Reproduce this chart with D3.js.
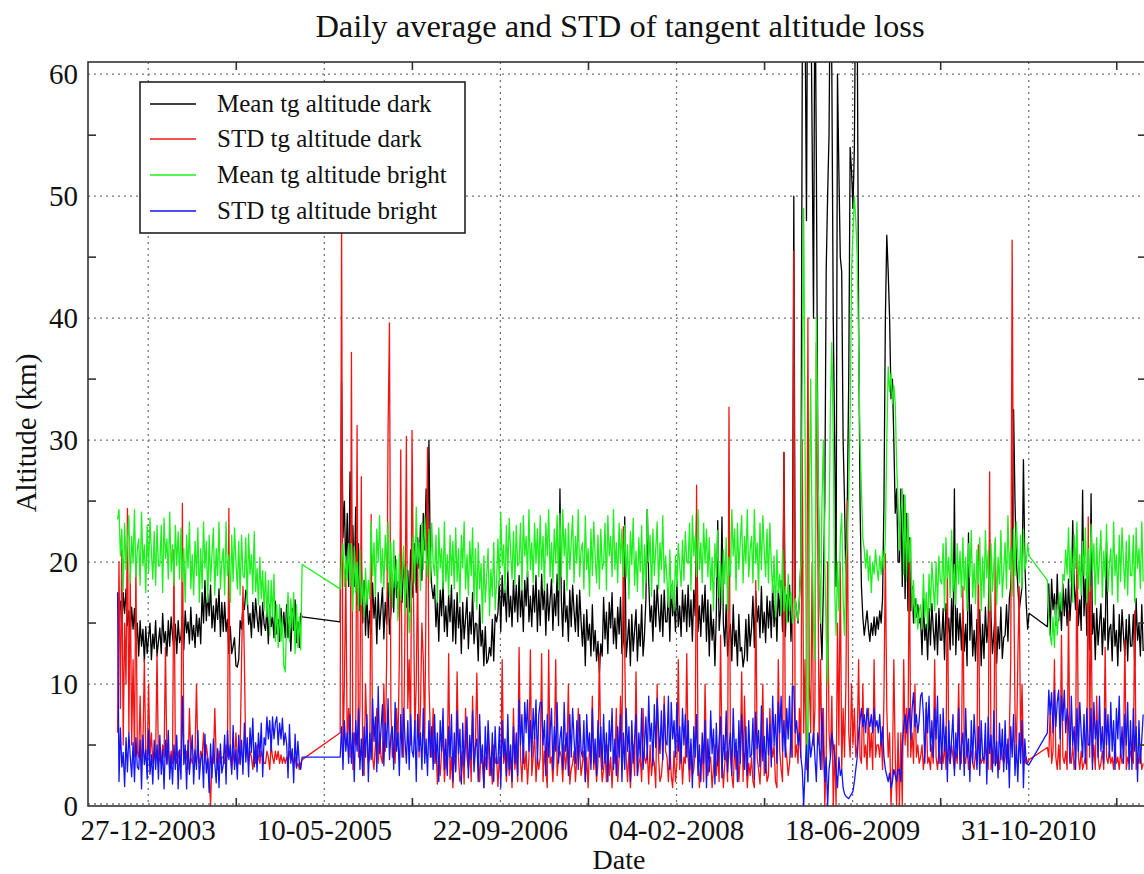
<!DOCTYPE html>
<html>
<head>
<meta charset="utf-8">
<script src="https://cdn.jsdelivr.net/npm/d3@7"></script>
<style>
  body { margin: 0; background: #fff; }
  text { font-family: "Liberation Serif", "Times New Roman", serif; fill: #111; }
</style>
</head>
<body>
<div id="chart"></div>
<script>
// one sample every 4 days from 01-10-2003, null = no measurement
const firstDay = "01-10-2003";
const stepDays = 4;

const meanDark = [
  17.5, 16, 16.8, 14.5, 17.5, 15.8, 17.8, 14.8, 16, 14, 16.3, 14.5, 16.2, 13, 15,
  12.3, 15.2, 13.1, 14.5, 11.8, 14.7, 12.5, 13.8, 15, 12, 14.1, 12.9, 15.2, 12.3, 13.5,
  14.6, 12.5, 15.8, 13.4, 14.3, 12.3, 15.2, 13.1, 15.5, 14, 12.8, 14.9, 12.5, 15.2, 13.4,
  13.9, 15.7, 12.8, 16, 14.2, 15.1, 13.3, 16.3, 13.6, 14.8, 13, 15.7, 13.9, 15.4, 13.3,
  17.5, 15, 18.5, 15.2, 17.4, 15.6, 18.1, 14.6, 16.4, 14.3, 17, 15.3, 17.8, 13.9, 16.7,
  14.3, 16.7, 14.3, 15.3, 12.5, 14.7, 12.5, 13.1, 13.8, 11.5, 11.4, 12, 15.2, 14.5, 16.5,
  16.1, 17.7, 17.2, 14.9, 15.8, 13.8, 16.7, 14.6, 17, 15.5, 14.3, 16.4, 14, 16.7, 14.9,
  14.4, 16.2, 13.3, 16.5, 14.7, 15.6, 13.8, 16.8, 14.1, 15.3, 13.5, 16.2, 14.4, 15.9, 13.8,
  16.5, 13.8, 15.5, 12.7, 16.2, 14.4, 16.9, 13.4, 15.1, 13, 15.8, 15.5, null, null, null,
  null, null, null, null, null, null, null, null, null, null, null, null, null, null, null,
  null, null, null, null, null, null, null, null, 15.1, 34.8, 22, 25, 19, 24, 18,
  27.4, 20, 23, 18, 24.5, 16.5, 21.5, 16, 20, 15, 18.5, 14, 17.5, 13.8, 16,
  14.1, 18.3, 15.4, 17.1, 13.3, 17.5, 14.5, 16.2, 17.9, 13.7, 16.7, 14.9, 18.3, 14.1, 15.8,
  18.9, 15.9, 20.5, 17.1, 18.4, 15.5, 19.7, 16.7, 20.1, 18, 16.3, 19.3, 15.9, 21, 17.1,
  19, 21.5, 17.5, 22, 19.5, 23, 18.5, 24, 21, 26, 19, 30, 20, 18, 17,
  18.1, 14.7, 16.9, 13.5, 17.7, 15.6, 18.5, 14.3, 16.4, 13.9, 17.3, 15.1, 18.1, 13.5, 16.9,
  13.3, 17.5, 14.6, 16.3, 12.5, 16.7, 13.7, 15.4, 17.1, 12.9, 15.9, 14.1, 17.5, 13.3, 15,
  14.9, 11.9, 16.5, 13.1, 14.4, 11.5, 14.7, 11.7, 12, 13, 12.3, 15.3, 11.9, 15.7, 15.1,
  15.9, 18.5, 14.3, 18.9, 16.4, 17.7, 15.1, 19.3, 15.5, 17.2, 14.7, 18.5, 15.9, 18.1, 15.1,
  18.9, 15.5, 17.7, 14.3, 18.5, 16.4, 19.3, 15.1, 17.2, 14.7, 18.1, 15.9, 18.9, 14.3, 17.7,
  14.8, 19, 16.1, 17.8, 14, 18.2, 15.2, 16.9, 18.6, 14.4, 17.4, 15.6, 19, 14.8, 26,
  16.9, 13.9, 18.5, 15.1, 16.4, 13.5, 17.7, 14.7, 18.1, 16, 14.3, 17.3, 13.9, 17.7, 15.1,
  13.1, 15.7, 11.5, 16.1, 13.6, 14.9, 12.3, 16.5, 12.7, 14.4, 11.9, 13.5, 10.9, 13.3, 12.3,
  17.1, 13.7, 15.9, 12.5, 16.7, 14.6, 17.5, 13.3, 15.4, 12.9, 16.3, 14.1, 17.1, 12.5, 13.5,
  23.7, 12.2, 13.6, 15.3, 11.5, 15.7, 12.7, 14.4, 16.1, 11.9, 14.9, 13.1, 16.5, 12.3, 14,
  16.9, 24.3, 18.5, 15.1, 16.4, 13.5, 17.7, 14.7, 18.1, 16, 14.3, 17.3, 13.9, 17.7, 15.1,
  15.1, 17.7, 13.5, 18.1, 15.6, 16.9, 14.3, 18.5, 14.7, 16.4, 13.9, 17.7, 15.1, 17.3, 14.3,
  18.1, 14.7, 16.9, 13.5, 17.7, 15.6, 24, 14.3, 16.4, 13.9, 17.3, 15.1, 18.1, 13.5, 16.9,
  12.3, 16.5, 13.6, 15.3, 11.5, 15.7, 23.4, 14.4, 16.1, 23.7, 14.9, 13.1, 16.5, 12.3, 14,
  14.9, 11.9, 16.5, 13.1, 14.4, 11.5, 15.7, 12.7, 13, 11.4, 12.3, 15.3, 11.9, 15.7, 13.1,
  14.6, 17.2, 13, 17.6, 15.1, 16.4, 13.8, 18, 14.2, 15.9, 13.4, 17.2, 14.6, 16.8, 13.8,
  18.1, 14.7, 16.9, 13.5, 17.7, 15.6, 18.5, 14.3, 29, 13.9, 17.3, 15.1, 18.1, 13.5, 16.9,
  50, 17, 16, 15, 17, 20, 61, 70, 65, 48, 75, 70, 68, 55, 40,
  70, 53, 30, 20, 15, 12, 18, 25, 44, 50, 55, 70, 60, 40, 30,
  18, 60, 52, 45, 43.8, 30, 25, 18, 25, 35, 54, 52, 49, 54, 70,
  65, 40, 25, 18, 15.5, 14, 15, 16, 14.5, 13.5, 15, 14, 15.5, 14, 15.5,
  14.5, 16, 15, 17, 25, 40, 46.8, 43.8, 40, 33.4, 35, 30, 24, 26, 20,
  20, 26, 18, 25.5, 17, 24, 16, 22, 16, 18, 15, 17, 15.5, 16.5, 15,
  15.4, 12.4, 17, 13.6, 14.9, 12, 16.2, 13.2, 16.6, 14.5, 12.8, 15.8, 12.4, 16.2, 13.6,
  13.6, 16.2, 12, 16.6, 14.1, 15.4, 12.8, 17, 13.2, 26, 12.4, 16.2, 13.6, 15.8, 12.8,
  16.1, 12.7, 14.9, 11.5, 22.4, 13.6, 16.5, 12.3, 14.4, 11.9, 15.3, 13.1, 16.1, 11.5, 14.9,
  12.1, 16.3, 13.4, 15.1, 21.8, 15.5, 12.5, 14.2, 15.9, 11.7, 14.7, 12.9, 16.3, 12.1, 13.8,
  14, 16.5, 13.5, 17, 18, 20, 32.5, 25, 20, 18, 16, 17, 18, 28.4, 20,
  16.5, 14.5, 15.8, null, null, null, null, null, null, null, null, null, null, null, null,
  14.7, 18.2, 14, 18.6, 16.1, 17.4, 14.8, 19, 15.2, 16.9, 14.4, 18.2, 15.6, 17.8, 14.8,
  18.6, 15.2, 17.4, 23.4, 18.2, 16.1, 19, 14.8, 16.9, 14.4, 25.9, 15.6, 18.6, 14, 17.4,
  12.8, 25.6, 14.1, 15.8, 12, 16.2, 13.2, 14.9, 16.6, 12.4, 15.4, 13.6, 21.6, 12.8, 14.5,
  14.9, 11.9, 16.5, 13.1, 14.4, 11.5, 15.7, 12.7, 16.1, 14, 12.3, 15.3, 11.9, 15.7, 13.1,
  13.1, 15.7, 11.5, 17, 13.6, 14.9, 12.3, 16.5, 12.7
];

const stdDark = [
  6, 20, 8, 21, 5, 15, 10, 24.4, 6, 19, 5, 12, 4, 20, 4.5,
  4, 9, 3.5, 5, 12, 4, 3.5, 10, 4, 6, 3.5, 4.5, 4, 12.5, 3.5,
  4, 3.5, 5, 4, 13, 3.5, 4.5, 3, 4.5, 3.5, 21, 4, 3.5, 4.5, 3.5,
  4, 24.8, 5, 3.5, 4.5, 3, 8, 4, 3.5, 4, 4.5, 10, 4, 3.5, 4.5,
  4, 6, 3.5, 5, 4, 3, 0, 4, 3.5, 8, 4, 3, 4.5, 3.5, 4,
  4, 3.5, 5, 4, 24.4, 4, 3, 4.5, 3.5, 6, 4, 3.5, 4.5, 12, 18,
  12, 4, 5, 3.5, 4.5, 4, 3, 4.5, 3.5, 5, 4, 3.5, 4.5, 4, 3.5,
  3.5, 4.5, 4, 3, 5, 4, 3.5, 4.5, 3.8, 4.5, 3.5, 4.2, 3.5, 4, 3.5,
  4, 3.5, 4.5, 3.8, 4.2, 3.5, 4, 3.2, 3.5, 3, 3.5, 3.8, null, null, null,
  null, null, null, null, null, null, null, null, null, null, null, null, null, null, null,
  null, null, null, null, null, null, null, null, 6, 48, 4, 10, 19, 5, 8,
  4, 37.2, 3, 6, 5, 31.2, 4, 8, 27, 3, 2.5, 10, 6, 3.5, 4,
  23.9, 4, 3, 5, 8, 3.5, 6, 4, 3.5, 10, 4.5, 12, 30.8, 39.6, 8,
  4, 5, 3.5, 8, 5, 12, 29.2, 6, 4, 15, 30.3, 8, 12, 5, 30.8,
  18, 6, 10, 20, 4, 8, 15, 12, 5, 18, 29.4, 10, 6, 4, 8,
  3.5, 5, 1.8, 4, 2.5, 4.5, 6, 2, 4, 3, 12.5, 2.2, 4, 1.5, 4.5,
  3, 11, 4, 2, 2.5, 4.5, 1.8, 8, 4, 3, 5, 2, 9, 3.5, 5,
  10.9, 4, 2, 4.5, 3.5, 1.5, 4, 3, 6, 2.5, 4, 1.8, 5, 3.5, 4,
  1.6, 4, 2.5, 12, 3.5, 4.5, 2, 5, 2.5, 4, 1.5, 8, 3, 4.5, 2,
  13, 4, 2, 5, 3, 4.5, 1.8, 4, 12.8, 2.5, 4, 6, 2, 4, 3,
  4, 12.5, 2, 4.5, 3, 1.5, 12.8, 3.5, 4, 2, 4.5, 12, 2.5, 4, 4.5,
  4, 2, 5, 3, 4.5, 10, 1.8, 3, 3.5, 4.5, 2, 4, 8, 4.5, 2.5,
  3.5, 4.5, 2, 4, 1.5, 5, 3.5, 9, 3, 4.5, 2, 3.5, 12.5, 4, 2,
  3, 4.5, 2, 5, 2.5, 4, 1.5, 4.5, 3.5, 8, 2, 4, 9, 4, 22.9,
  12.5, 4, 2, 4.5, 1.5, 3.5, 5, 2.5, 11, 2.5, 3.5, 4, 2, 8, 4,
  3.5, 4.5, 1.8, 5, 2.5, 4, 3.5, 1.5, 10, 4, 2, 2.5, 4, 9, 4.5,
  4, 2, 5, 2.5, 1.5, 4.5, 2, 3.5, 12, 3, 5, 1.8, 4, 3.5, 12.5,
  4, 2, 5, 2.5, 3, 4.5, 26.3, 4, 1.5, 3.5, 4.5, 2, 10, 4, 2.5,
  3.5, 4, 1.5, 3, 5, 2.5, 4.5, 2, 14, 4, 1.5, 3.5, 4.5, 2, 32.7,
  4, 2.5, 1.5, 5, 3, 4.5, 2, 4, 11, 2, 9, 4, 1.5, 3.5, 2.5,
  4, 2, 1.5, 18.5, 4, 3, 1.8, 4.5, 10, 2.5, 4, 2, 2.5, 8, 5,
  4, 5, 2, 1.5, 12, 4.5, 3, 2, 29, 5, 4, 2.5, 3.5, 6, 4,
  45.5, 4, 5, 3.5, 8, 4, 30, 6, 12, 3, 40, 10, 6, 20, 5,
  8, 38, 22, 5, 12, 3, 8, 0, 4, 20, 6, 4, 9, 0, 5,
  0, 15, 5, 20, 3, 8, 4, 10, 25, 6, 4, 10, 5, 8, 4,
  5, 12, 4, 3.5, 10, 4, 5, 3, 8, 4, 6, 3, 12, 4, 5,
  5, 4, 6, 3, 9, 20.7, 8, 4, 6, 0, 3, 12, 4, 0, 6,
  0, 6, 0, 12, 5, 8, 4, 21.8, 4, 6, 3.5, 10, 4, 5, 3.5,
  4, 5, 3, 4.5, 8, 3.5, 4, 3, 5, 3.5, 12, 4, 3, 4.5, 3.5,
  4.5, 3.5, 5, 3, 19.6, 4, 3.5, 5, 4, 3, 4.5, 3.5, 10, 4, 3.5,
  18, 4, 3.5, 5, 3, 4, 4.5, 3.5, 3, 4.5, 3.5, 21.4, 4, 3.5, 4,
  3.5, 5, 4, 3, 27.4, 3, 4.5, 3.5, 21.6, 3.5, 4, 3, 5, 4, 3.5,
  4, 5, 3.5, 6, 12, 46.4, 20, 8, 4, 12, 18, 5, 10, 4, 3.5,
  4, 3.5, 3.8, null, null, null, null, null, null, null, null, null, null, null, null,
  4.8, 4, 8, 3.5, 4.5, 12, 4, 3, 5, 3, 14, 4, 3.5, 4.5, 3,
  16, 4, 3.5, 5, 3, 4, 21.8, 4, 3, 4.5, 3, 3.5, 4, 3, 23.7,
  4, 18, 3.5, 5, 3, 9, 4, 3, 3.5, 4.5, 3, 13, 4, 3.5, 4.5,
  3.5, 4, 3, 5, 3.5, 4, 3, 4.5, 3.5, 4, 13.6, 3, 4, 3.5, 4.5,
  4, 3.5, 16, 3, 4, 3.5, 4.5, 3, 3.5
];

const meanBright = [
  23.5, 24.3, 20.5, 22.7, 17.7, 23.2, 19.4, 21.6, 23.8, 18.3, 22.1, 19.9, 24.3, 18.8, 21,
  21.9, 18.1, 24.1, 19.7, 21.4, 17.5, 23, 19.2, 23.6, 20.8, 18.6, 22.5, 18.1, 23, 19.7,
  19.7, 23, 17.5, 23.6, 20.3, 21.9, 18.6, 24.1, 19.2, 21.4, 18.1, 23, 19.7, 22.5, 18.6,
  22.8, 18.4, 21.1, 16.7, 22.2, 19.5, 23.3, 17.8, 20.6, 17.3, 21.7, 18.9, 22.8, 16.7, 21.1,
  17.8, 23.3, 19.5, 21.7, 16.7, 22.2, 18.4, 20.6, 22.8, 17.3, 21.1, 18.9, 23.3, 17.8, 20,
  21.1, 17.3, 23.3, 18.9, 20.6, 16.7, 22.2, 18.4, 22.8, 20, 17.8, 21.7, 17.3, 22.2, 18.9,
  18.7, 22, 16.5, 22.3, 19, 20.6, 17.4, 22.5, 17.6, 19.5, 16.5, 20.4, 17, 19.3, 16,
  19.2, 15.5, 18.5, 14, 18.5, 15.5, 19, 13.5, 16.5, 13, 16.5, 13.5, 15.5, 11.5, 11,
  15, 17.5, 13.5, 17, 14.5, 17.5, 12.5, 16.5, 13, 15.5, 12.8, 19.8, null, null, null,
  null, null, null, null, null, null, null, null, null, null, null, null, null, null, null,
  null, null, null, null, null, null, null, null, 17.8, 20, 21.5, 18, 20.5, 18.5, 21.5,
  18, 21.5, 16, 21.3, 17.5, 20, 16, 21, 16.5, 18.5, 15.5, 19.5, 16.5, 18.5, 17,
  23.3, 18.9, 21.6, 17.2, 22.7, 20, 23.8, 18.3, 21.1, 17.8, 22.2, 19.4, 23.3, 17.2, 21.6,
  16.3, 21.8, 17.9, 20.2, 15.2, 20.7, 16.9, 19, 21.3, 15.8, 19.6, 17.4, 14.2, 16.3, 18.5,
  22.1, 18.3, 24.5, 19.9, 21.6, 17.7, 23.2, 19.4, 23.8, 21, 18.8, 22.7, 18.3, 23.2, 19.9,
  18.9, 22.2, 16.7, 22.8, 19.5, 21.1, 17.8, 23.3, 18.4, 20.6, 17.3, 22.2, 18.9, 21.7, 17.8,
  22.8, 18.4, 21.1, 16.7, 22.2, 19.5, 23.3, 17.8, 20.6, 17.3, 21.7, 18.9, 22.8, 16.7, 21.1,
  16.1, 21.6, 17.8, 19.9, 15, 20.5, 16.7, 18.9, 21.1, 15.6, 19.4, 17.2, 21.6, 16.1, 18.3,
  21.9, 18.1, 24.1, 19.7, 21.4, 17.5, 23, 19.2, 23.6, 20.8, 18.6, 22.5, 18.1, 23, 19.7,
  19.9, 23.2, 17.7, 23.8, 20.5, 22.1, 18.8, 24.3, 19.4, 21.6, 18.3, 23.2, 19.9, 22.7, 18.8,
  23.8, 19.4, 22.1, 17.7, 23.2, 20.5, 24.3, 18.8, 21.6, 18.3, 22.7, 19.9, 23.8, 17.7, 24,
  18.8, 24.3, 20.5, 22.7, 17.7, 23.2, 19.4, 21.6, 23.8, 18.3, 22.1, 19.9, 24.3, 18.8, 21,
  21.6, 17.8, 23.8, 19.4, 21.1, 17.2, 22.7, 18.9, 23.3, 20.5, 18.3, 22.2, 17.8, 22.7, 19.4,
  19.9, 23.2, 17.7, 23.8, 20.5, 22.1, 18.8, 24.3, 19.4, 21.6, 18.3, 23.2, 19.9, 22.7, 18.8,
  23, 18.7, 21.4, 17, 22.5, 19.8, 23.6, 18.1, 20.9, 17.6, 22, 19.2, 23, 17, 21.4,
  18.3, 24.3, 20, 22.2, 17.2, 22.7, 18.9, 21.1, 23.3, 17.8, 21.6, 19.4, 23.8, 18.3, 20.5,
  18.5, 16.3, 21, 17, 18.5, 16, 20.5, 18, 21.5, 19.8, 18, 21.8, 18.5, 22.5, 20,
  19.9, 23.2, 17.7, 23.8, 20.5, 22.1, 18.8, 24.3, 19.4, 21.6, 18.3, 23.2, 19.9, 22.7, 18.8,
  22, 17.7, 20.4, 16, 21.5, 18.8, 22.6, 17.1, 19.9, 16.6, 21, 18.2, 22, 16, 20.4,
  18.8, 24.3, 20.5, 22.7, 17.7, 23.2, 19.4, 21.6, 23.8, 18.3, 22.1, 19.9, 24.3, 18.8, 21,
  22.1, 18.3, 24.3, 19.9, 21.6, 17.7, 23.2, 19.4, 23.8, 21, 18.8, 22.7, 18.3, 23.2, 19.9,
  17.5, 20.5, 15.5, 21, 17.5, 19, 15.8, 21, 16, 18, 15, 19, 16, 17.5, 15,
  15.5, 17, 16, 15.2, 17, 20, 35, 49, 30, 8, 2, 25, 35, 22, 15,
  12, 40, 30, 20, 15, 25, 30, 20, 14, 10, 22, 33, 38, 30, 18,
  14, 20, 16, 22, 24, 17, 14, 20, 22, 26, 32, 44, 47, 50, 48,
  45, 38, 30, 26, 22, 21, 19.5, 21, 18.5, 20.5, 17.5, 20, 19, 21, 19.5,
  18.5, 20.5, 19, 21, 19.5, 22, 30, 36, 34, 35.5, 33, 34.5, 33, 28, 25,
  21, 24, 26, 19, 25.5, 18.5, 24, 20, 22, 16, 18.5, 15, 17, 14.5, 16,
  16.5, 14.5, 19, 15.5, 17.5, 14.5, 19, 16, 20, 18, 16, 20, 16.5, 20.5, 18.5,
  18.2, 21.5, 16, 22, 18.7, 20.4, 17.1, 22.6, 17.6, 19.8, 16.5, 21.5, 18.2, 20.9, 17.1,
  22, 17.7, 20.4, 16, 21.5, 18.8, 22.6, 17.1, 19.9, 16.6, 21, 18.2, 22, 16, 20.4,
  17.1, 22.6, 18.7, 20.9, 16, 21.5, 17.6, 19.8, 22, 16.5, 20.4, 18.2, 22.6, 17.1, 19.3,
  21.6, 17.8, 23.8, 19.4, 21.1, 17.2, 22.7, 18.9, 23.3, 20.5, 18.3, 22.2, 17.8, 22.7, 19.4,
  20, 21.5, 20.5, null, null, null, null, null, null, null, null, null, null, null, null,
  18.5, 15.5, 14, 13.2, 15.5, 13, 16.5, 14, 16, 17.5, 16, 19, 18.5, 21, 19,
  22.8, 18.4, 21.1, 16.7, 22.2, 19.5, 23.3, 17.8, 20.6, 17.3, 21.7, 18.9, 22.8, 16.7, 21.1,
  17.6, 23.1, 19.3, 21.5, 16.5, 22, 18.2, 20.4, 22.6, 17.1, 20.9, 18.7, 23.1, 17.6, 19.8,
  21.1, 17.3, 23.3, 18.9, 20.6, 16.7, 22.2, 18.4, 22.8, 20, 17.8, 21.7, 17.3, 22.2, 18.9,
  18.9, 22.2, 16.7, 22.8, 19.5, 21.1, 17.8, 23.3, 18.4
];

const stdBright = [
  17.5, 2, 6.4, 3.2, 4.4, 1.6, 5.6, 2.8, 6, 4, 2.4, 5.2, 2, 5.6, 3.2,
  3, 5.4, 1.4, 5.8, 3.4, 4.6, 2.2, 6.2, 2.6, 4.2, 1.8, 5.4, 3, 5, 2.2,
  5.8, 2.6, 4.6, 1.4, 5.4, 3.4, 6.2, 2.2, 4.2, 1.8, 5, 3, 5.8, 1.4, 4.6,
  2.2, 9, 3.4, 5, 1.4, 5.4, 2.6, 4.2, 5.8, 1.8, 4.6, 3, 6.2, 2.2, 3.8,
  4.3, 1.5, 5.9, 2.7, 3.9, 1.1, 5.1, 2.3, 5.5, 3.5, 1.9, 4.7, 1.5, 5.1, 2.7,
  3.4, 5.8, 1.8, 6.2, 3.8, 5, 2.6, 6.6, 3, 4.6, 2.2, 5.8, 3.4, 5.4, 2.6,
  6.8, 3.6, 5.6, 2.4, 6.4, 4.4, 7.2, 3.2, 5.2, 2.8, 6, 4, 6.8, 2.4, 5.6,
  5, 7.3, 5.5, 7, 4.5, 7.3, 5.5, 6.8, 7.3, 5, 6.8, 5.5, 7.2, 5, 6,
  5.1, 2.3, 6.7, 3.5, 4.7, 1.9, 5.9, 3.1, 5.3, 3.5, 3, 4, null, null, null,
  null, null, null, null, null, null, null, null, null, null, null, null, null, null, null,
  null, null, null, null, null, null, null, null, 4, 6.5, 3, 7, 4.5, 6, 3.5,
  7.5, 3.5, 6, 2, 7, 4.5, 8, 3, 5.5, 2.5, 6.5, 4, 7.5, 2, 6,
  3.8, 8.8, 5.3, 7.3, 2.8, 9.8, 4.3, 6.3, 8.3, 3.3, 6.8, 4.8, 8.8, 3.8, 5.8,
  6.5, 3, 8.5, 4.5, 6, 2.5, 7.5, 4, 8, 5.5, 3.5, 7, 3, 7.5, 4.5,
  4, 7, 2, 7.5, 4.5, 6, 3, 8, 3.5, 5.5, 2.5, 7, 4, 6.5, 3,
  7.5, 3.5, 6, 2, 7, 4.5, 8, 3, 5.5, 2.5, 6.5, 4, 7.5, 2, 6,
  2.8, 7.8, 4.3, 6.3, 1.8, 6.8, 3.3, 5.3, 7.3, 2.3, 5.8, 3.8, 7.8, 2.8, 4.8,
  5.5, 2, 7.5, 3.5, 5, 1.5, 6.5, 3, 7, 4.5, 2.5, 6, 2, 6.5, 3.5,
  3.5, 6.5, 1.5, 7, 4, 5.5, 2.5, 7.5, 3, 5, 2, 6.5, 3.5, 6, 2.5,
  8.7, 5, 7.5, 3.5, 8.5, 6, 8.7, 4.5, 7, 4, 8, 5.5, 8.7, 3.5, 7.5,
  8.5, 8.5, 5, 7, 2.5, 7.5, 4, 6, 8, 3, 6.5, 4.5, 8.5, 3.5, 5.5,
  6.5, 3, 8.5, 4.5, 6, 2.5, 7.5, 4, 8, 5.5, 3.5, 7, 3, 7.5, 4.5,
  4, 7, 2, 7.5, 4.5, 6, 3, 8, 3.5, 5.5, 2.5, 7, 4, 6.5, 3,
  7.5, 3.5, 6, 2, 7, 4.5, 8, 3, 5.5, 2.5, 6.5, 4, 7.5, 2, 6,
  3, 8, 4.5, 6.5, 2, 7, 3.5, 5.5, 7.5, 2.5, 6, 4, 8, 3, 5,
  7.3, 3.8, 9, 5.3, 6.8, 3.3, 8.3, 4.8, 8.8, 6.3, 4.3, 7.8, 3.8, 8.3, 5.3,
  5, 9, 3, 8.5, 5.5, 7, 4, 8.5, 4.5, 6.5, 3.5, 8, 5, 7.5, 4,
  7, 3, 5.5, 1.5, 6.5, 4, 7.5, 2.5, 5, 2, 6, 3.5, 7, 1.5, 5.5,
  2.8, 7.8, 4.3, 6.3, 1.8, 6.8, 3.3, 5.3, 7.3, 2.3, 5.8, 3.8, 7.8, 2.8, 4.8,
  6, 2.5, 8, 4, 5.5, 2, 7, 3.5, 7.5, 5, 3, 6.5, 2.5, 7, 4,
  4.2, 7.2, 2.2, 7.7, 4.7, 6.2, 3.2, 8.2, 3.7, 5.7, 2.7, 7.2, 4.2, 6.7, 3.2,
  9, 5, 7.5, 3.5, 8.5, 6, 9, 4.5, 7, 4, 8, 5.5, 9, 4, 9.8,
  9.8, 6, 7, 5, 6, 4, 3, 0, 3, 5, 2, 6, 4, 5, 6,
  4, 2, 6, 5, 3, 8, 5, 2, 4, 0, 3, 4, 6, 5, 4,
  3, 1.5, 4, 2.5, 3, 1.5, 1, 0.8, 0.7, 0.6, 0.8, 1, 1.2, 2, 3,
  4, 6, 7, 8, 6.5, 7.5, 6, 8, 7, 6.5, 7.5, 6, 8, 6.5, 7,
  6, 7.5, 5, 6.5, 4, 3, 2.5, 2, 2.7, 1.5, 2, 3, 2.5, 2, 3,
  3, 2, 5, 6.5, 7.5, 6, 7, 8, 5.5, 8, 9.3, 6.5, 7.5, 6, 7,
  9, 9.3, 7.5, 3.5, 8.5, 6, 9, 4.5, 7, 4, 8, 5.5, 9, 3.5, 7.5,
  3, 8, 4.5, 6.5, 2, 7, 3.5, 5.5, 7.5, 2.5, 6, 4, 8, 3, 5,
  6, 2.5, 8, 4, 5.5, 2, 7, 3.5, 7.5, 5, 3, 6.5, 2.5, 7, 4,
  3.8, 6.8, 1.8, 7.3, 4.3, 5.8, 2.8, 7.8, 3.3, 5.3, 2.3, 6.8, 3.8, 6.3, 2.8,
  7, 3, 5.5, 1.5, 6.5, 4, 7.5, 2.5, 5, 2, 6, 3.5, 7, 1.5, 5.5,
  3.5, 3.4, 3.4, null, null, null, null, null, null, null, null, null, null, null, null,
  6, 9.5, 7.5, 9.3, 6, 9.5, 6.5, 8.5, 9.5, 5.5, 9, 7, 9.5, 6, 8,
  7, 3.5, 9, 5, 6.5, 3, 8, 4.5, 8.5, 6, 4, 7.5, 3.5, 8, 5,
  5, 8, 3, 8.5, 5.5, 7, 4, 9, 4.5, 6.5, 3.5, 8, 5, 7.5, 4,
  8.5, 4.5, 7, 3, 8, 5.5, 9, 4, 6.5, 3.5, 7.5, 5, 8.5, 3, 7,
  3, 8, 4.5, 6.5, 2, 7, 3.5, 5.5, 7.5
];

const seriesNames = ["Mean tg altitude dark", "STD tg altitude dark", "Mean tg altitude bright", "STD tg altitude bright"];
const seriesColors = ["#000000", "#f21414", "#1fef1f", "#1414f5"];
const xTickLabels = ["27-12-2003", "10-05-2005", "22-09-2006", "04-02-2008", "18-06-2009", "31-10-2010"];
const yTicks = [0, 10, 20, 30, 40, 50, 60];
const yMinorTicks = [5, 15, 25, 35, 45, 55];

const width = 1144, height = 874;
const margin = { left: 88, top: 62, right: 1146, bottom: 806 };

const parse = d3.timeParse("%d-%m-%Y");
const t0 = parse(firstDay);
const majorDates = xTickLabels.map(parse);
const minorDates = majorDates.map(d => d3.timeDay.offset(d, 250));

const x = d3.scaleTime()
    .domain([parse("09-07-2003"), parse("29-09-2011")])
    .range([margin.left, margin.right]);
const y = d3.scaleLinear()
    .domain([0, 61])
    .range([margin.bottom, margin.top]);

const svg = d3.select("#chart").append("svg")
    .attr("width", width)
    .attr("height", height);

svg.append("defs").append("clipPath").attr("id", "plot")
  .append("rect")
    .attr("x", margin.left).attr("y", margin.top)
    .attr("width", margin.right - margin.left)
    .attr("height", margin.bottom - margin.top);

// dotted grid
const grid = svg.append("g")
    .attr("stroke", "#777")
    .attr("stroke-width", 1.3)
    .attr("stroke-dasharray", "2,4");
grid.selectAll("line.h")
  .data(yTicks.filter(d => d > 0))
  .join("line")
    .attr("x1", margin.left).attr("x2", margin.right)
    .attr("y1", d => y(d)).attr("y2", d => y(d));
grid.selectAll("line.v")
  .data(majorDates)
  .join("line")
    .attr("x1", d => x(d)).attr("x2", d => x(d))
    .attr("y1", margin.top).attr("y2", margin.bottom);
grid.append("line")
    .attr("x1", margin.left).attr("x2", margin.right)
    .attr("y1", margin.bottom - 2).attr("y2", margin.bottom - 2);

// the four daily series
const line = d3.line()
    .x(d => x(d.date))
    .y(d => y(d.value));

const allSeries = [meanDark, stdDark, meanBright, stdBright].map(values =>
  values.map((v, i) => ({ date: d3.timeDay.offset(t0, i * stepDays), value: v }))
        .filter(d => d.value !== null));

svg.append("g")
    .attr("clip-path", "url(#plot)")
  .selectAll("path")
  .data(allSeries)
  .join("path")
    .attr("fill", "none")
    .attr("stroke", (d, i) => seriesColors[i])
    .attr("stroke-width", 1.3)
    .attr("stroke-linejoin", "round")
    .attr("d", line);

// frame and minor ticks
svg.append("rect")
    .attr("x", margin.left).attr("y", margin.top)
    .attr("width", margin.right - margin.left)
    .attr("height", margin.bottom - margin.top)
    .attr("fill", "none")
    .attr("stroke", "#333")
    .attr("stroke-width", 1.6);

const ticks = svg.append("g").attr("stroke", "#333").attr("stroke-width", 1.6);
ticks.selectAll("line.yl")
  .data(yMinorTicks)
  .join("line")
    .attr("x1", margin.left).attr("x2", margin.left + 8)
    .attr("y1", d => y(d)).attr("y2", d => y(d));
ticks.selectAll("line.yr")
  .data(yMinorTicks)
  .join("line")
    .attr("x1", margin.right).attr("x2", margin.right - 8)
    .attr("y1", d => y(d)).attr("y2", d => y(d));
ticks.selectAll("line.xb")
  .data(minorDates.filter(d => x(d) < margin.right))
  .join("line")
    .attr("x1", d => x(d)).attr("x2", d => x(d))
    .attr("y1", margin.bottom).attr("y2", margin.bottom - 8);
ticks.selectAll("line.xt")
  .data(minorDates.filter(d => x(d) < margin.right))
  .join("line")
    .attr("x1", d => x(d)).attr("x2", d => x(d))
    .attr("y1", margin.top).attr("y2", margin.top + 8);

// tick labels
svg.append("g")
    .style("font-size", "29px")
    .attr("text-anchor", "end")
  .selectAll("text")
  .data(yTicks)
  .join("text")
    .attr("x", 78)
    .attr("y", d => y(d) + 10)
    .text(d => d);

svg.append("g")
    .style("font-size", "29px")
    .attr("text-anchor", "middle")
  .selectAll("text")
  .data(majorDates)
  .join("text")
    .attr("x", d => x(d))
    .attr("y", 840)
    .text((d, i) => xTickLabels[i]);

// titles
svg.append("text")
    .attr("x", 620).attr("y", 37)
    .attr("text-anchor", "middle")
    .style("font-size", "32.5px")
    .text("Daily average and STD of tangent altitude loss");

svg.append("text")
    .attr("x", 619).attr("y", 869)
    .attr("text-anchor", "middle")
    .style("font-size", "28px")
    .text("Date");

svg.append("text")
    .attr("transform", "translate(36,433) rotate(-90)")
    .attr("text-anchor", "middle")
    .style("font-size", "29px")
    .text("Altitude (km)");

// legend
const legend = svg.append("g");
legend.append("rect")
    .attr("x", 140).attr("y", 82)
    .attr("width", 325).attr("height", 151)
    .attr("fill", "#fff")
    .attr("stroke", "#222")
    .attr("stroke-width", 1.6);
const rows = [104, 139, 175, 211];
legend.selectAll("line")
  .data(seriesNames)
  .join("line")
    .attr("x1", 150).attr("x2", 196)
    .attr("y1", (d, i) => rows[i]).attr("y2", (d, i) => rows[i])
    .attr("stroke", (d, i) => seriesColors[i])
    .attr("stroke-width", 1.6);
legend.selectAll("text")
  .data(seriesNames)
  .join("text")
    .attr("x", 217)
    .attr("y", (d, i) => rows[i] + 8)
    .style("font-size", "25px")
    .text(d => d);
</script>
</body>
</html>
